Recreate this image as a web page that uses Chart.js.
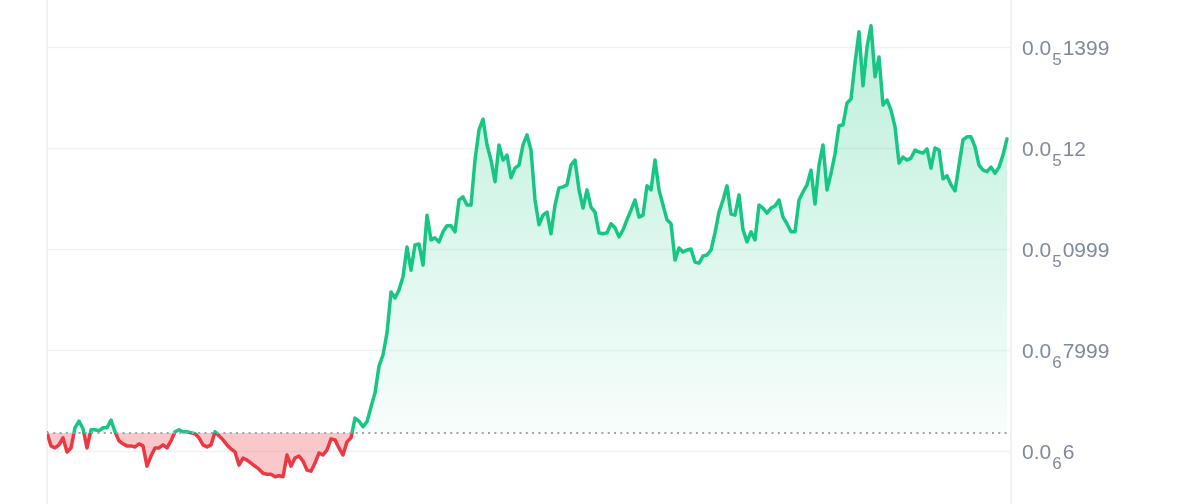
<!DOCTYPE html>
<html>
<head>
<meta charset="utf-8">
<script src="https://cdn.jsdelivr.net/npm/chart.js@4/dist/chart.umd.min.js"></script>
<style>
    html, body { margin: 0; padding: 0; background: #fff; }
    #wrap { width: 1200px; height: 504px; position: relative; }
</style>
</head>
<body>
<div id="wrap"><canvas id="priceChart"></canvas></div>
<script>
// price in units of 0.00000001 USD, one point per step
const prices = [
    63.6, 61.0, 60.6, 61.2, 62.6, 59.8, 60.6, 64.6, 65.9, 64.4,
    60.6, 64.2, 64.2, 64.0, 64.6, 64.6, 66.1, 63.8, 62.0, 61.4,
    61.0, 61.0, 60.8, 61.4, 61.0, 57.0, 59.0, 60.6, 60.6, 61.2,
    60.6, 62.0, 63.8, 64.2, 63.8, 63.8, 63.6, 63.4, 62.6, 61.2,
    60.8, 61.2, 63.8, 63.0, 62.2, 61.2, 60.4, 59.8, 57.2, 58.6,
    58.2, 57.6, 57.0, 56.4, 55.6, 55.4, 55.4, 54.9, 55.1, 54.9,
    59.2, 57.0, 58.6, 59.0, 58.0, 56.2, 56.0, 57.6, 59.6, 59.2,
    60.2, 62.4, 62.2, 60.6, 59.2, 61.8, 62.6, 66.5, 65.9, 64.8,
    65.8, 68.7, 71.5, 76.8, 79.0, 83.4, 91.5, 90.3, 91.9, 94.5,
    100.4, 95.8, 100.8, 101.0, 96.8, 106.7, 101.8, 102.2, 101.4, 103.4,
    104.6, 104.6, 103.4, 109.7, 110.3, 108.7, 108.7, 117.6, 123.6, 125.7,
    120.6, 117.6, 113.3, 120.6, 117.6, 118.6, 114.1, 116.0, 116.6, 120.6,
    122.6, 119.6, 109.7, 104.8, 106.7, 107.3, 103.0, 108.7, 112.1, 112.3,
    112.7, 116.6, 117.6, 111.7, 108.1, 111.7, 108.3, 107.3, 103.2, 103.0,
    103.2, 105.0, 104.2, 102.4, 103.8, 105.8, 107.7, 109.7, 106.3, 106.7,
    112.5, 111.7, 117.6, 111.7, 108.7, 105.8, 105.0, 97.8, 100.2, 99.4,
    99.8, 100.0, 97.4, 97.2, 98.6, 98.8, 99.8, 103.2, 107.3, 109.7,
    112.5, 106.9, 106.7, 110.7, 103.8, 101.4, 103.4, 101.8, 108.7, 108.1,
    107.1, 108.1, 108.5, 109.7, 106.3, 105.0, 103.4, 103.4, 109.7, 111.3,
    112.7, 115.6, 108.9, 116.6, 120.6, 111.7, 115.0, 118.8, 124.4, 124.6,
    128.9, 129.7, 136.8, 143.0, 132.3, 140.0, 144.2, 134.1, 138.0, 128.5,
    129.5, 127.5, 124.2, 117.0, 118.2, 117.6, 118.0, 119.6, 119.2, 119.0,
    119.8, 116.0, 120.0, 119.6, 113.9, 114.5, 112.7, 111.5, 116.6, 121.6,
    122.2, 122.2, 120.2, 116.6, 115.6, 115.3, 116.2, 115.0, 116.2, 118.6,
    121.8
]

// right axis: value, number of zeros (subscript), remaining digits
const tickValues = [60, 80, 100, 120, 140]
const tickZeros = ['6', '6', '5', '5', '5']
const tickDigits = ['6', '7999', '0999', '12', '1399']

const GREEN = '#16c784'
const RED = '#ea3943'
const basePrice = prices[0]

function splitGradient(chart, top, mid, low, bottom) {
    const {ctx, chartArea, scales} = chart
    if (!chartArea) return top
    const baseY = scales.y.getPixelForValue(basePrice)
    let stop = (baseY - chartArea.top) / (chartArea.bottom - chartArea.top)
    stop = Math.min(Math.max(stop, 0), 1)
    const g = ctx.createLinearGradient(0, chartArea.top, 0, chartArea.bottom)
    g.addColorStop(0, top)
    g.addColorStop(stop, mid)
    g.addColorStop(stop, low)
    g.addColorStop(1, bottom)
    return g
}

const axisPlugin = {
    id: 'axisPlugin',
    beforeDatasetsDraw(chart) {
        const {ctx, chartArea, scales} = chart
        ctx.save()
        ctx.strokeStyle = '#eff2f5'
        ctx.lineWidth = 1.5
        tickValues.forEach(v => {
            const y = Math.round(scales.y.getPixelForValue(v)) + 0.5
            ctx.beginPath()
            ctx.moveTo(chartArea.left, y)
            ctx.lineTo(chartArea.right, y)
            ctx.stroke()
        })
        ctx.lineWidth = 2
        ;[chartArea.left, chartArea.right].forEach(x => {
            ctx.beginPath()
            ctx.moveTo(x, 0)
            ctx.lineTo(x, chart.height)
            ctx.stroke()
        })
        ctx.restore()
    },
    afterDatasetsDraw(chart) {
        const {ctx, chartArea, scales} = chart
        const y = Math.round(scales.y.getPixelForValue(basePrice))
        ctx.save()
        ctx.strokeStyle = '#9ea4b1'
        ctx.lineWidth = 2
        ctx.setLineDash([2, 4.3])
        ctx.beginPath()
        ctx.moveTo(chartArea.left, y)
        ctx.lineTo(chartArea.right, y)
        ctx.stroke()
        ctx.restore()
    },
    afterDraw(chart) {
        const {ctx, chartArea, scales} = chart
        ctx.save()
        ctx.fillStyle = '#808a9d'
        ctx.textBaseline = 'alphabetic'
        tickValues.forEach((v, i) => {
            const y = scales.y.getPixelForValue(v)
            let x = chartArea.right + 11
            ctx.font = '21px "Liberation Sans", Arial, sans-serif'
            ctx.fillText('0.0', x, y + 8)
            x += ctx.measureText('0.0').width + 1
            ctx.font = '17px "Liberation Sans", Arial, sans-serif'
            ctx.fillText(tickZeros[i], x, y + 18)
            x += ctx.measureText(tickZeros[i]).width + 1
            ctx.font = '21px "Liberation Sans", Arial, sans-serif'
            ctx.fillText(tickDigits[i], x, y + 8)
        })
        ctx.restore()
    }
}

new Chart(document.getElementById('priceChart'), {
    type: 'line',
    data: {
        datasets: [
            {
                data: prices.map((p, i) => ({x: i, y: p})),
                borderWidth: 3.5,
                borderJoinStyle: 'round',
                borderCapStyle: 'round',
                pointRadius: 0,
                tension: 0,
                borderColor: ctx => splitGradient(ctx.chart, GREEN, GREEN, RED, RED),
                backgroundColor: ctx => splitGradient(ctx.chart,
                    'rgba(22,199,132,0.30)', 'rgba(22,199,132,0.03)',
                    'rgba(234,57,67,0.28)', 'rgba(234,57,67,0.28)'),
                fill: {target: {value: basePrice}}
            }
        ]
    },
    options: {
        responsive: true,
        maintainAspectRatio: false,
        animation: false,
        layout: {padding: {left: 47, right: 189, top: 0, bottom: 0}},
        plugins: {legend: {display: false}, tooltip: {enabled: false}},
        scales: {
            x: {type: 'linear', display: false, min: 0, max: prices.length},
            y: {display: false, min: 49.5, max: 149.3}
        }
    },
    plugins: [axisPlugin]
})
</script>
</body>
</html>
